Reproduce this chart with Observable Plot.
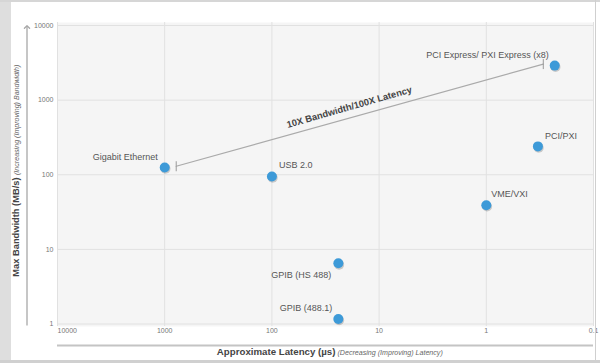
<!DOCTYPE html>
<html>
<head>
<meta charset="utf-8">
<script src="https://cdn.jsdelivr.net/npm/d3@7"></script>
<script src="https://cdn.jsdelivr.net/npm/@observablehq/plot@0.6"></script>
<style>
  html, body { margin: 0; padding: 0; background: #fff; }
  #wrap { position: relative; width: 600px; height: 363px; overflow: hidden; }
  #wrap svg { display: block; }
  .deco { position: absolute; }
</style>
</head>
<body>
<div id="wrap">
  <div class="deco" style="left:0;top:0;width:11px;height:363px;background:#dedede"></div>
  <div class="deco" style="left:0;top:0;width:600px;height:2px;background:#d6d6d6"></div>
  <div class="deco" style="left:595px;top:0;width:1px;height:363px;background:#cfcfcf"></div>
  <div class="deco" style="left:0;top:360px;width:600px;height:3px;background:#d0d0d0"></div>
</div>
<script>
// ---- data ----
const names = ["Gigabit Ethernet", "USB 2.0", "PCI Express/ PXI Express (x8)", "PCI/PXI", "VME/VXI", "GPIB (HS 488)", "GPIB (488.1)"];
const latency = [1000, 100, 0.23, 0.33, 1, 24, 24];          // µs
const bandwidth = [125, 95, 2900, 240, 39, 6.5, 1.17];        // MB/s

const trendLatency = [781, 0.294];
const trendBandwidth = [130, 3040];
const trendLabel = ["10X Bandwidth/100X Latency"];
const trendLabelLatency = [19];
const trendLabelBandwidth = [580];

const xTicks = [10000, 1000, 100, 10, 1, 0.1];
const xTickLabels = ["10000", "1000", "100", "10", "1", "0.1"];
const yTicks = [1, 10, 100, 1000, 10000];
const yTickLabels = ["1", "10", "100", "1000", "10000"];

const xTitleBold = ["Approximate Latency (µs)"];
const xTitleItalic = ["(Decreasing (Improving) Latency)"];
const yTitleBold = ["Max Bandwidth (MB/s)"];
const yTitleItalic = ["(Increasing (Improving) Bandwidth)"];

// ---- tables ----
const points = names.map((n, i) => ({name: n, latency: latency[i], bandwidth: bandwidth[i], i}));
const trend = trendLatency.map((x, i) => ({latency: x, bandwidth: trendBandwidth[i]}));
const xTickData = xTicks.map((v, i) => ({v, label: xTickLabels[i]}));
const yTickData = yTicks.map((v, i) => ({v, label: yTickLabels[i]}));

const font = "'Liberation Sans', Arial, Helvetica, sans-serif";
const barSymbol = {draw(ctx) { ctx.moveTo(0, -5); ctx.lineTo(0, 5); }};

// label placement (style, not data)
const labelPlacement = [
  {i: 0, anchor: "end",   dx: -7, dy: -10},
  {i: 1, anchor: "start", dx: 7,  dy: -11},
  {i: 2, anchor: "end",   dx: -6, dy: -11},
  {i: 3, anchor: "start", dx: 7,  dy: -10},
  {i: 4, anchor: "start", dx: 5,  dy: -11},
  {i: 5, anchor: "end",   dx: -7, dy: 12},
  {i: 6, anchor: "end",   dx: -6, dy: -11}
];

const xMin = d3.max(xTicks), xMax = d3.min(xTicks);
const yMin = d3.min(yTicks), yMax = d3.max(yTicks);

const chart = Plot.plot({
  width: 600,
  height: 363,
  marginLeft: 57,
  marginRight: 7,
  marginTop: 22,
  marginBottom: 37,
  style: {background: "transparent", fontFamily: font},
  x: {type: "log", domain: [xMin, xMax], axis: null},
  y: {type: "log", domain: [yMin, yMax], range: [323.5, 25], axis: null},
  marks: [
    Plot.frame({fill: "#f5f5f5", stroke: null}),
    Plot.ruleX(xTickData, {x: "v", stroke: "#e1e1e1", strokeWidth: 1}),
    Plot.ruleY(yTickData, {y: "v", stroke: "#e1e1e1", strokeWidth: 1}),
    // y tick labels
    Plot.text(yTickData, {y: "v", text: "label", frameAnchor: "left", textAnchor: "end", dx: -4, fontSize: 7, fill: "#777"}),
    // x tick labels
    Plot.text(xTickData.filter(d => d.v === xMin), {x: "v", text: "label", frameAnchor: "bottom", textAnchor: "start", dy: 6.5, fontSize: 7, fill: "#777"}),
    Plot.text(xTickData.filter(d => d.v !== xMin), {x: "v", text: "label", frameAnchor: "bottom", dy: 6.5, fontSize: 7, fill: "#777"}),
    // axis lines
    Plot.link([0], {x1: () => xMin, x2: () => xMin, y1: () => yMin, y2: () => yMax, dx: -30.5, dy: 1.5, stroke: "#a8a8a8", strokeWidth: 1.3, markerEnd: "arrow"}),
    Plot.ruleY([yMin], {x1: xMin, x2: xMax, dy: 21.5, stroke: "#c4c4c4", strokeWidth: 2}),
    // axis titles
    Plot.text(xTitleBold, {text: d => d, frameAnchor: "bottom", textAnchor: "end", dx: 10, dy: 28, fontSize: 9.7, fontWeight: "bold", fill: "#444"}),
    Plot.text(xTitleItalic, {text: d => d, frameAnchor: "bottom", textAnchor: "start", dx: 12, dy: 28, fontSize: 7.1, fontStyle: "italic", fill: "#666"}),
    Plot.text(yTitleBold, {text: d => d, frameAnchor: "left", rotate: -90, textAnchor: "end", dx: -41, dy: 3, fontSize: 9.3, fontWeight: "bold", fill: "#444"}),
    Plot.text(yTitleItalic, {text: d => d, frameAnchor: "left", rotate: -90, textAnchor: "start", dx: -41, dy: 0.5, fontSize: 7.1, fontStyle: "italic", fill: "#666"}),
    // trend line
    Plot.line(trend, {x: "latency", y: "bandwidth", stroke: "#aaaaaa", strokeWidth: 1.2}),
    Plot.dot(trend, {x: "latency", y: "bandwidth", symbol: barSymbol, stroke: "#999", strokeWidth: 1, fill: "none"}),
    Plot.text(trendLabel, {text: d => d, x: () => trendLabelLatency[0], y: () => trendLabelBandwidth[0], rotate: -16, dy: -10.5, fontSize: 9.4, fontWeight: "bold", fill: "#444"}),
    // points (shadow + dot)
    Plot.dot(points, {x: "latency", y: "bandwidth", r: 5, fill: "#000", fillOpacity: 0.18, dx: 0.8, dy: 1.3, stroke: null}),
    Plot.dot(points, {x: "latency", y: "bandwidth", r: 5, fill: "#3d9ad8", stroke: null}),
    // point labels
    ...labelPlacement.map(p => Plot.text(points.filter(d => d.i === p.i), {
      x: "latency", y: "bandwidth", text: "name", textAnchor: p.anchor, dx: p.dx, dy: p.dy,
      fontSize: 9, fill: "#555"
    }))
  ]
});

document.getElementById("wrap").prepend(chart);
</script>
</body>
</html>
